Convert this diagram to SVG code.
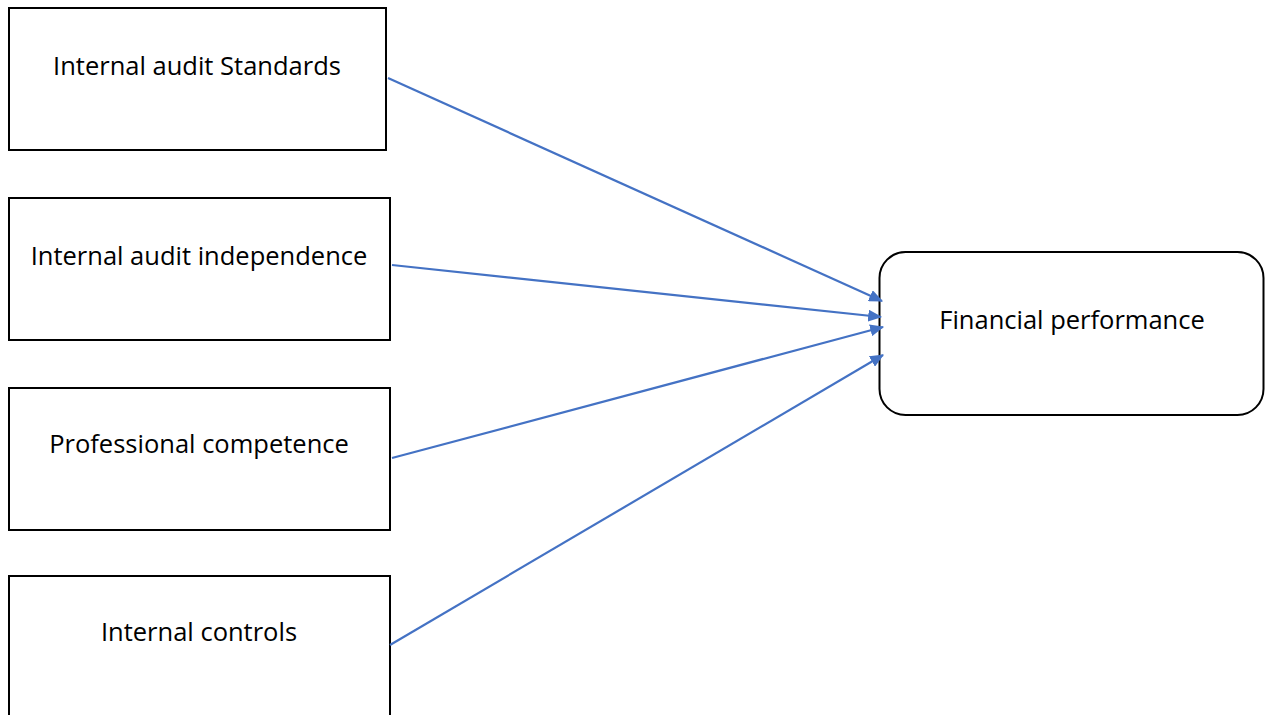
<svg xmlns="http://www.w3.org/2000/svg" width="1265" height="715" viewBox="0 0 1265 715">
<style>
.box{fill:#fff;stroke:#000;stroke-width:2}
.t{font-family:"Open Sans","Liberation Sans",sans-serif;font-size:25.5px;fill:#000;text-anchor:middle}
.c{stroke:#4472C4;stroke-width:2.2;fill:none}
</style>
<defs>
<marker id="ah" viewBox="0 0 12 10" refX="11" refY="5" markerWidth="14" markerHeight="12" markerUnits="userSpaceOnUse" orient="auto" preserveAspectRatio="none">
<path d="M0,0 L12,5 L0,10 z" fill="#4472C4"/>
</marker>
</defs>
<rect width="1265" height="715" fill="#fff"/>
<g id="n1"><rect class="box" x="9" y="8" width="377" height="142"/><text class="t" x="197" y="75">Internal audit Standards</text></g>
<g id="n2"><rect class="box" x="9" y="198" width="381" height="142"/><text class="t" x="199" y="265">Internal audit independence</text></g>
<g id="n3"><rect class="box" x="9" y="388" width="381" height="142"/><text class="t" x="199" y="453">Professional competence</text></g>
<g id="n4"><rect class="box" x="9" y="576" width="381" height="150"/><text class="t" x="199" y="641">Internal controls</text></g>
<g id="n5"><rect class="box" x="879.5" y="252" width="384" height="163" rx="26"/><text class="t" x="1072" y="329">Financial performance</text></g>
<g id="connectors">
<line class="c" x1="388" y1="78" x2="882" y2="301" marker-end="url(#ah)"/>
<line class="c" x1="392" y1="265" x2="881" y2="317" marker-end="url(#ah)"/>
<line class="c" x1="392" y1="458" x2="883" y2="327" marker-end="url(#ah)"/>
<line class="c" x1="390" y1="645" x2="883" y2="355" marker-end="url(#ah)"/>
</g>
</svg>
